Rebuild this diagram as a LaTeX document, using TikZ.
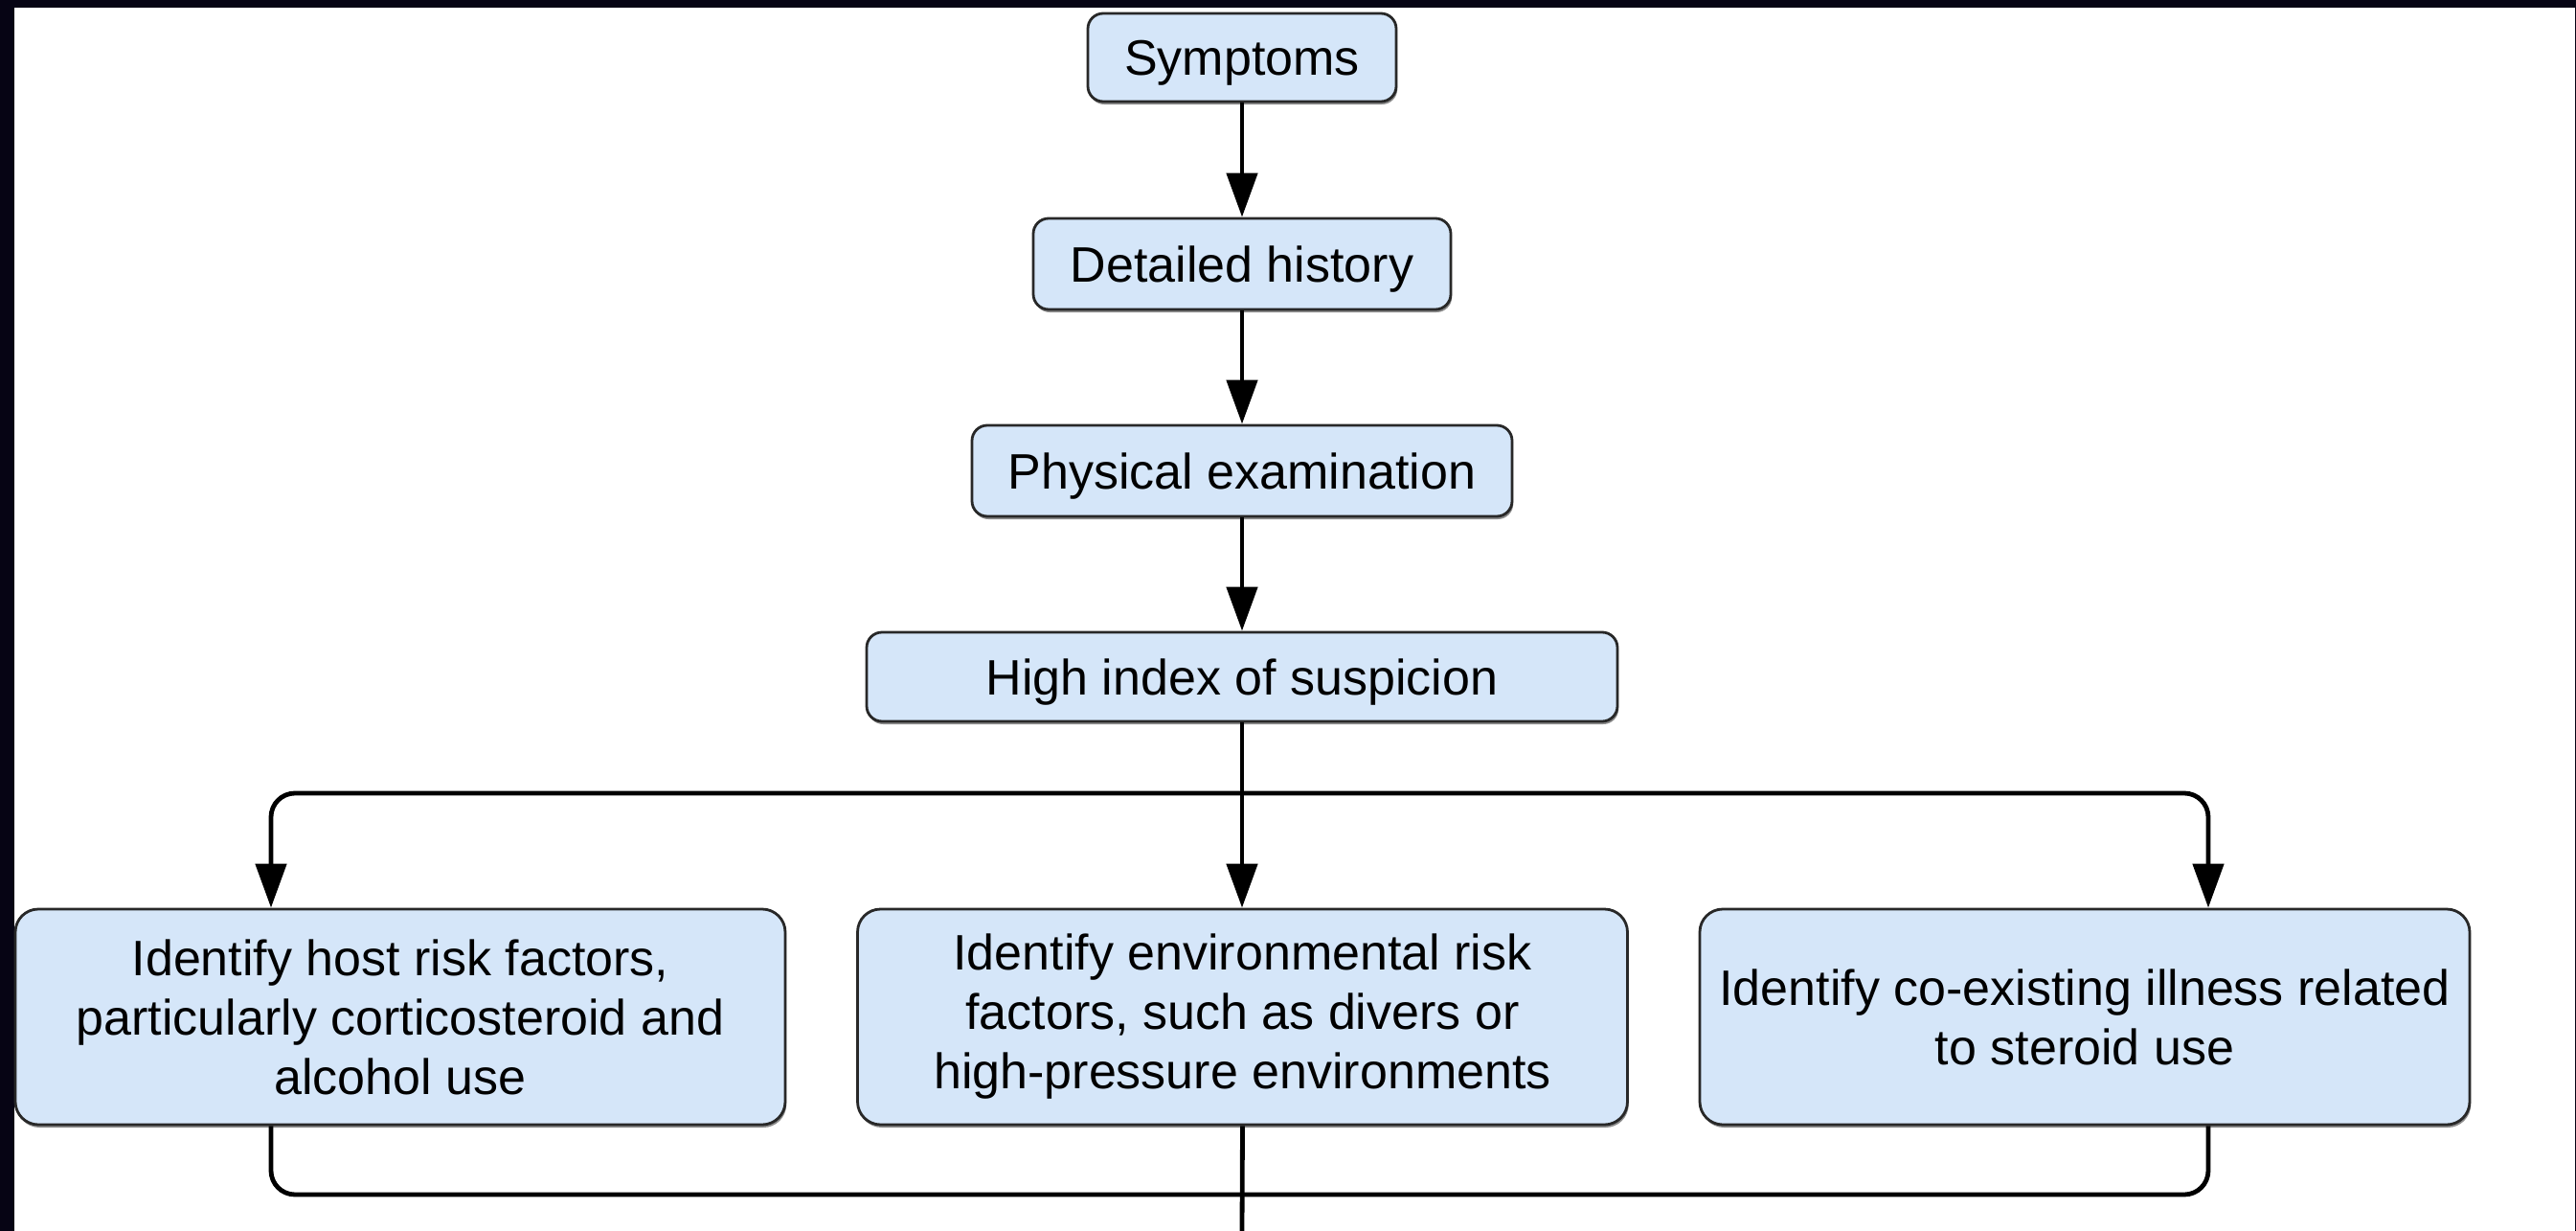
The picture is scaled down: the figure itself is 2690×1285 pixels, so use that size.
\documentclass[tikz,border=0pt]{standalone}
\usepackage{fontspec}
\setmainfont{Liberation Sans}
\usetikzlibrary{arrows.meta,calc,shadows}
\definecolor{frame}{RGB}{6,4,20}
\definecolor{boxfill}{RGB}{213,230,249}
\definecolor{boxline}{RGB}{40,40,40}
\begin{document}
\begin{tikzpicture}[x=0.5pt,y=-0.5pt,
  box/.style={draw=boxline, line width=1.4pt, fill=boxfill, rounded corners=8pt,
    align=center, inner sep=0pt, font=\fontsize{26}{31}\selectfont,
    drop shadow={shadow xshift=0.6pt, shadow yshift=-1.5pt, fill=black!45, opacity=1}},
  onebox/.style={box, text height=24pt, text depth=5.5pt},
  bigbox/.style={box, rounded corners=12pt, minimum width=402pt, minimum height=112.5pt},
  ln/.style={line width=2.4pt, black},
  arr/.style={ln, -{Triangle[width=16pt,length=23pt]}}]
\fill[frame] (0,0) rectangle (2690,1285);
\fill[white] (15,8) rectangle (2689,1285);
\useasboundingbox (0,0) rectangle (2690,1285);

\node[onebox, minimum width=161pt, minimum height=46pt] (s) at (1297,60) {Symptoms};
\node[onebox, minimum width=218pt, minimum height=47.5pt] (d) at (1297,275.5) {Detailed history};
\node[onebox, minimum width=282pt, minimum height=47.5pt] (p) at (1297,491.5) {Physical examination};
\node[onebox, minimum width=392pt, minimum height=46.5pt] (h) at (1297,706.5) {High index of suspicion};

\node[bigbox] (l) at (418,1061.5) {Identify host risk factors,\\particularly corticosteroid and\\alcohol use};
\node[bigbox] (m) at (1297.5,1061.5) {Identify environmental risk\\factors, such as divers or\\high-pressure environments};
\node[bigbox] (r) at (2177,1061.5) {Identify co-existing illness related\\to steroid use};

\coordinate (bt) at (1297,828);
\coordinate (bb) at (1297,1247);
\coordinate (endc) at (1297,1285);
\coordinate (lx) at (283,0);
\coordinate (rx) at (2306,0);

\draw[arr] (s) -- (d);
\draw[arr] (d) -- (p);
\draw[arr] (p) -- (h);
\draw[arr] (h.south) -- (h.south |- m.north);
\draw[arr, rounded corners=12.5pt] (bt) -| (lx |- l.north);
\draw[arr, rounded corners=12.5pt] (bt) -| (rx |- r.north);
\draw[ln, rounded corners=12.5pt] (lx |- l.south) |- (bb) -| (rx |- r.south);
\draw[ln] (m.south) -- (endc);
\end{tikzpicture}
\end{document}
